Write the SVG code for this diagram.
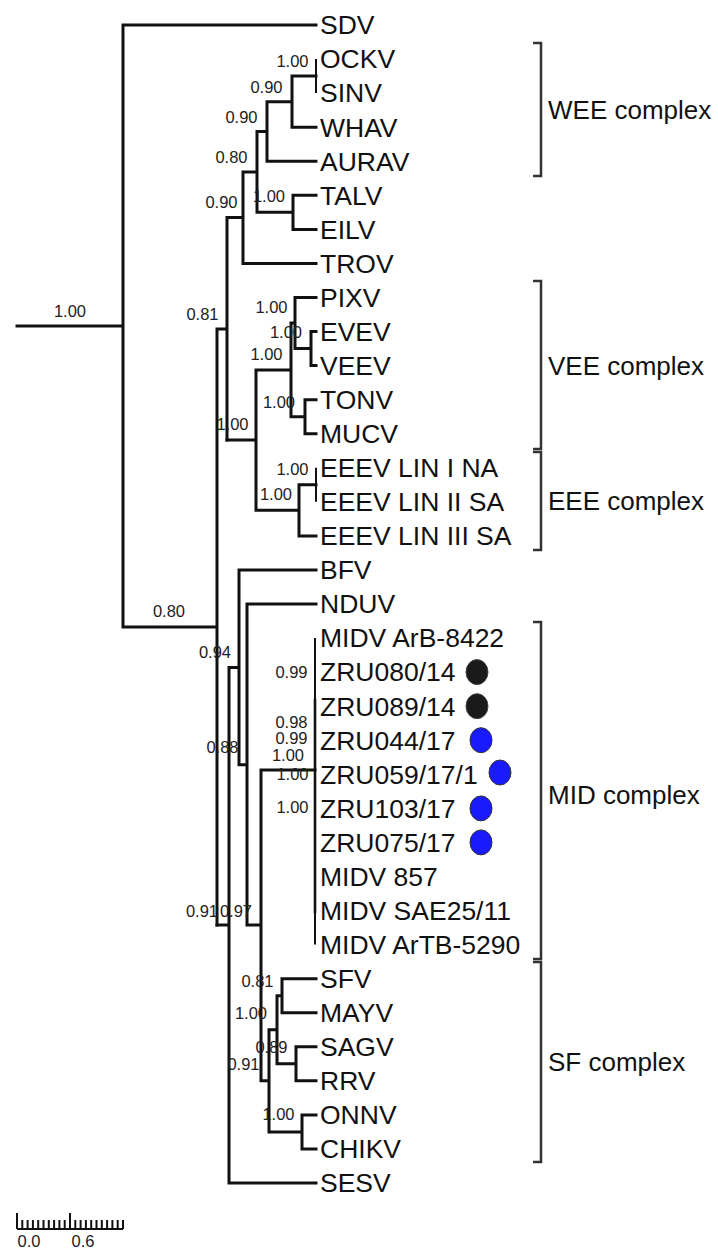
<svg xmlns="http://www.w3.org/2000/svg" width="718" height="1249" viewBox="0 0 718 1249">
<style>
.br{fill:none;stroke:#111;stroke-width:3;stroke-linecap:square}
.thin{fill:none;stroke:#111;stroke-width:2}
.leaf{font-family:"Liberation Sans",Arial,sans-serif;font-size:26.5px;fill:#111}
.sup{font-family:"Liberation Sans",Arial,sans-serif;font-size:16.5px;fill:#222;text-anchor:middle}
.bk{fill:none;stroke:#333;stroke-width:2.5}
.cx{font-family:"Liberation Sans",Arial,sans-serif;font-size:26px;fill:#111}
.dk{fill:#1a1a1a;stroke:#444;stroke-width:1}
.bl{fill:#1a1aff;stroke:#333;stroke-width:1}
</style>
<rect width="718" height="1249" fill="#fff"/>
<g id="connectors">
<path class="br" d="M17,326 H123 M123,25 V627 M123,25 H316 M123,627 H217 M217,329 V925 M217,329 H227 M227,217.6 V440 M227,217.6 H243 M243,172 V263.4 M243,263.4 H316 M243,172 H257 M257,131.4 V212.3 M257,212.3 H293 M293,195.3 V229.4 M293,195.3 H316 M293,229.4 H316 M257,131.4 H267 M267,101.7 V161.2 M267,161.2 H316 M267,101.7 H292 M292,76.1 V127.2 M292,127.2 H316 M292,76.1 H316"/>
<path class="thin" d="M316,59.1 V93.1 M316,467.8 V501.8"/>
<path class="br" d="M227,440 H256 M256,369.9 V510.3 M256,369.9 H291 M291,323 V416.7 M291,323 H295 M295,297.5 V348.5 M295,297.5 H316 M295,348.5 H311 M311,331.5 V365.6 M311,331.5 H316 M311,365.6 H316 M291,416.7 H305 M305,399.7 V433.7 M305,399.7 H316 M305,433.7 H316 M256,510.3 H299 M299,484.8 V535.9 M299,484.8 H316 M299,535.9 H316"/>
<path class="br" d="M217,925 H229 M229,667.4 V1183 M229,1183 H316 M229,667.4 H239 M239,570 V764.7 M239,570 H316 M239,764.7 H247 M247,604 V925 M247,604 H316 M247,925 H261 M261,770 V1080.8 M261,770 H315 M261,1080.8 H269 M269,1029.8 V1131.9 M269,1029.8 H277 M277,995.7 V1063.8 M277,995.7 H282 M282,978.7 V1012.7 M282,978.7 H316 M282,1012.7 H316 M277,1063.8 H296 M296,1046.8 V1080.8 M296,1046.8 H316 M296,1080.8 H316 M269,1131.9 H302 M302,1114.9 V1148.9 M302,1114.9 H316 M302,1148.9 H316"/>
<path class="thin" d="M315,638 V944.6"/>
<path class="br" style="stroke-width:2.6" d="M315,700 V912"/>
</g>
<g id="support">
<text class="sup" x="70" y="316.5">1.00</text>
<text class="sup" x="169" y="616.5">0.80</text>
<text class="sup" x="292.5" y="66.5">1.00</text>
<text class="sup" x="266.5" y="93">0.90</text>
<text class="sup" x="241.5" y="123">0.90</text>
<text class="sup" x="231.5" y="163">0.80</text>
<text class="sup" x="269" y="201.5">1.00</text>
<text class="sup" x="221.5" y="208">0.90</text>
<text class="sup" x="202.5" y="320">0.81</text>
<text class="sup" x="271.5" y="313">1.00</text>
<text class="sup" x="286" y="338">1.00</text>
<text class="sup" x="266.5" y="360">1.00</text>
<text class="sup" x="279" y="408">1.00</text>
<text class="sup" x="232.5" y="430">1.00</text>
<text class="sup" x="292.5" y="475">1.00</text>
<text class="sup" x="276" y="500">1.00</text>
<text class="sup" x="215" y="658">0.94</text>
<text class="sup" x="291.5" y="678">0.99</text>
<text class="sup" x="291.5" y="727.5">0.98</text>
<text class="sup" x="291.5" y="744">0.99</text>
<text class="sup" x="288" y="760.5">1.00</text>
<text class="sup" x="222.5" y="753">0.88</text>
<text class="sup" x="292.5" y="780">1.00</text>
<text class="sup" x="292.5" y="813">1.00</text>
<text class="sup" x="202" y="916.5">0.91</text>
<text class="sup" x="236" y="916.5">0.97</text>
<text class="sup" x="257.5" y="986.5">0.81</text>
<text class="sup" x="251" y="1019">1.00</text>
<text class="sup" x="271.5" y="1053">0.89</text>
<text class="sup" x="243.5" y="1070">0.91</text>
<text class="sup" x="278.5" y="1120">1.00</text>
</g>
<g id="leaves">
<g id="n-SDV"><text class="leaf" x="320" y="34.3">SDV</text></g>
<g id="n-OCKV"><text class="leaf" x="320" y="68.4">OCKV</text></g>
<g id="n-SINV"><text class="leaf" x="320" y="102.4">SINV</text></g>
<g id="n-WHAV"><text class="leaf" x="320" y="136.5">WHAV</text></g>
<g id="n-AURAV"><text class="leaf" x="320" y="170.5">AURAV</text></g>
<g id="n-TALV"><text class="leaf" x="320" y="204.6">TALV</text></g>
<g id="n-EILV"><text class="leaf" x="320" y="238.7">EILV</text></g>
<g id="n-TROV"><text class="leaf" x="320" y="272.7">TROV</text></g>
<g id="n-PIXV"><text class="leaf" x="320" y="306.8">PIXV</text></g>
<g id="n-EVEV"><text class="leaf" x="320" y="340.8">EVEV</text></g>
<g id="n-VEEV"><text class="leaf" x="320" y="374.9">VEEV</text></g>
<g id="n-TONV"><text class="leaf" x="320" y="409">TONV</text></g>
<g id="n-MUCV"><text class="leaf" x="320" y="443">MUCV</text></g>
<g id="n-EEEV1"><text class="leaf" x="320" y="477.1">EEEV LIN I NA</text></g>
<g id="n-EEEV2"><text class="leaf" x="320" y="511.1">EEEV LIN II SA</text></g>
<g id="n-EEEV3"><text class="leaf" x="320" y="545.2">EEEV LIN III SA</text></g>
<g id="n-BFV"><text class="leaf" x="320" y="579.3">BFV</text></g>
<g id="n-NDUV"><text class="leaf" x="320" y="613.3">NDUV</text></g>
<g id="n-MIDV8422"><text class="leaf" x="320" y="647.4">MIDV ArB-8422</text></g>
<g id="n-ZRU080"><text class="leaf" x="320" y="681.4">ZRU080/14</text><ellipse class="dk" cx="477" cy="672.1" rx="11" ry="12.5"/></g>
<g id="n-ZRU089"><text class="leaf" x="320" y="715.5">ZRU089/14</text><ellipse class="dk" cx="477" cy="706.2" rx="11" ry="12.5"/></g>
<g id="n-ZRU044"><text class="leaf" x="320" y="749.5">ZRU044/17</text><ellipse class="bl" cx="481" cy="740.2" rx="11" ry="12.5"/></g>
<g id="n-ZRU059"><text class="leaf" x="320" y="783.6">ZRU059/17/1</text><ellipse class="bl" cx="500" cy="772.5" rx="11" ry="12.5"/></g>
<g id="n-ZRU103"><text class="leaf" x="320" y="817.7">ZRU103/17</text><ellipse class="bl" cx="481" cy="808.4" rx="11" ry="12.5"/></g>
<g id="n-ZRU075"><text class="leaf" x="320" y="851.7">ZRU075/17</text><ellipse class="bl" cx="481" cy="842.4" rx="11" ry="12.5"/></g>
<g id="n-MIDV857"><text class="leaf" x="320" y="885.8">MIDV 857</text></g>
<g id="n-MIDVSAE"><text class="leaf" x="320" y="919.8">MIDV SAE25/11</text></g>
<g id="n-MIDV5290"><text class="leaf" x="320" y="953.9">MIDV ArTB-5290</text></g>
<g id="n-SFV"><text class="leaf" x="320" y="988">SFV</text></g>
<g id="n-MAYV"><text class="leaf" x="320" y="1022">MAYV</text></g>
<g id="n-SAGV"><text class="leaf" x="320" y="1056.1">SAGV</text></g>
<g id="n-RRV"><text class="leaf" x="320" y="1090.1">RRV</text></g>
<g id="n-ONNV"><text class="leaf" x="320" y="1124.2">ONNV</text></g>
<g id="n-CHIKV"><text class="leaf" x="320" y="1158.2">CHIKV</text></g>
<g id="n-SESV"><text class="leaf" x="320" y="1192.3">SESV</text></g>
</g>
<g id="brackets">
<g id="b-WEE"><path class="bk" d="M533,43 H541 V176 H533"/><text class="cx" x="548" y="119">WEE complex</text></g>
<g id="b-VEE"><path class="bk" d="M533,281 H541 V449 H533"/><text class="cx" x="548" y="375">VEE complex</text></g>
<g id="b-EEE"><path class="bk" d="M533,452 H541 V550 H533"/><text class="cx" x="548" y="510">EEE complex</text></g>
<g id="b-MID"><path class="bk" d="M533,622 H541 V959 H533"/><text class="cx" x="548" y="804">MID complex</text></g>
<g id="b-SF"><path class="bk" d="M533,962 H541 V1162 H533"/><text class="cx" x="548" y="1071">SF complex</text></g>
</g>
<g id="scalebar">
<path fill="none" stroke="#111" stroke-width="2" d="M17,1229 H123 M17,1229 V1213 M70,1229 V1213 M22.3,1229 V1220 M27.6,1229 V1220 M32.9,1229 V1220 M38.2,1229 V1220 M43.5,1229 V1220 M48.8,1229 V1220 M54.1,1229 V1220 M59.4,1229 V1220 M64.7,1229 V1220 M75.3,1229 V1220 M80.6,1229 V1220 M85.9,1229 V1220 M91.2,1229 V1220 M96.5,1229 V1220 M101.8,1229 V1220 M107.1,1229 V1220 M112.4,1229 V1220 M117.7,1229 V1220 M123,1229 V1220"/>
<text class="sup" x="29" y="1247">0.0</text>
<text class="sup" x="83" y="1247">0.6</text>
</g>
</svg>
